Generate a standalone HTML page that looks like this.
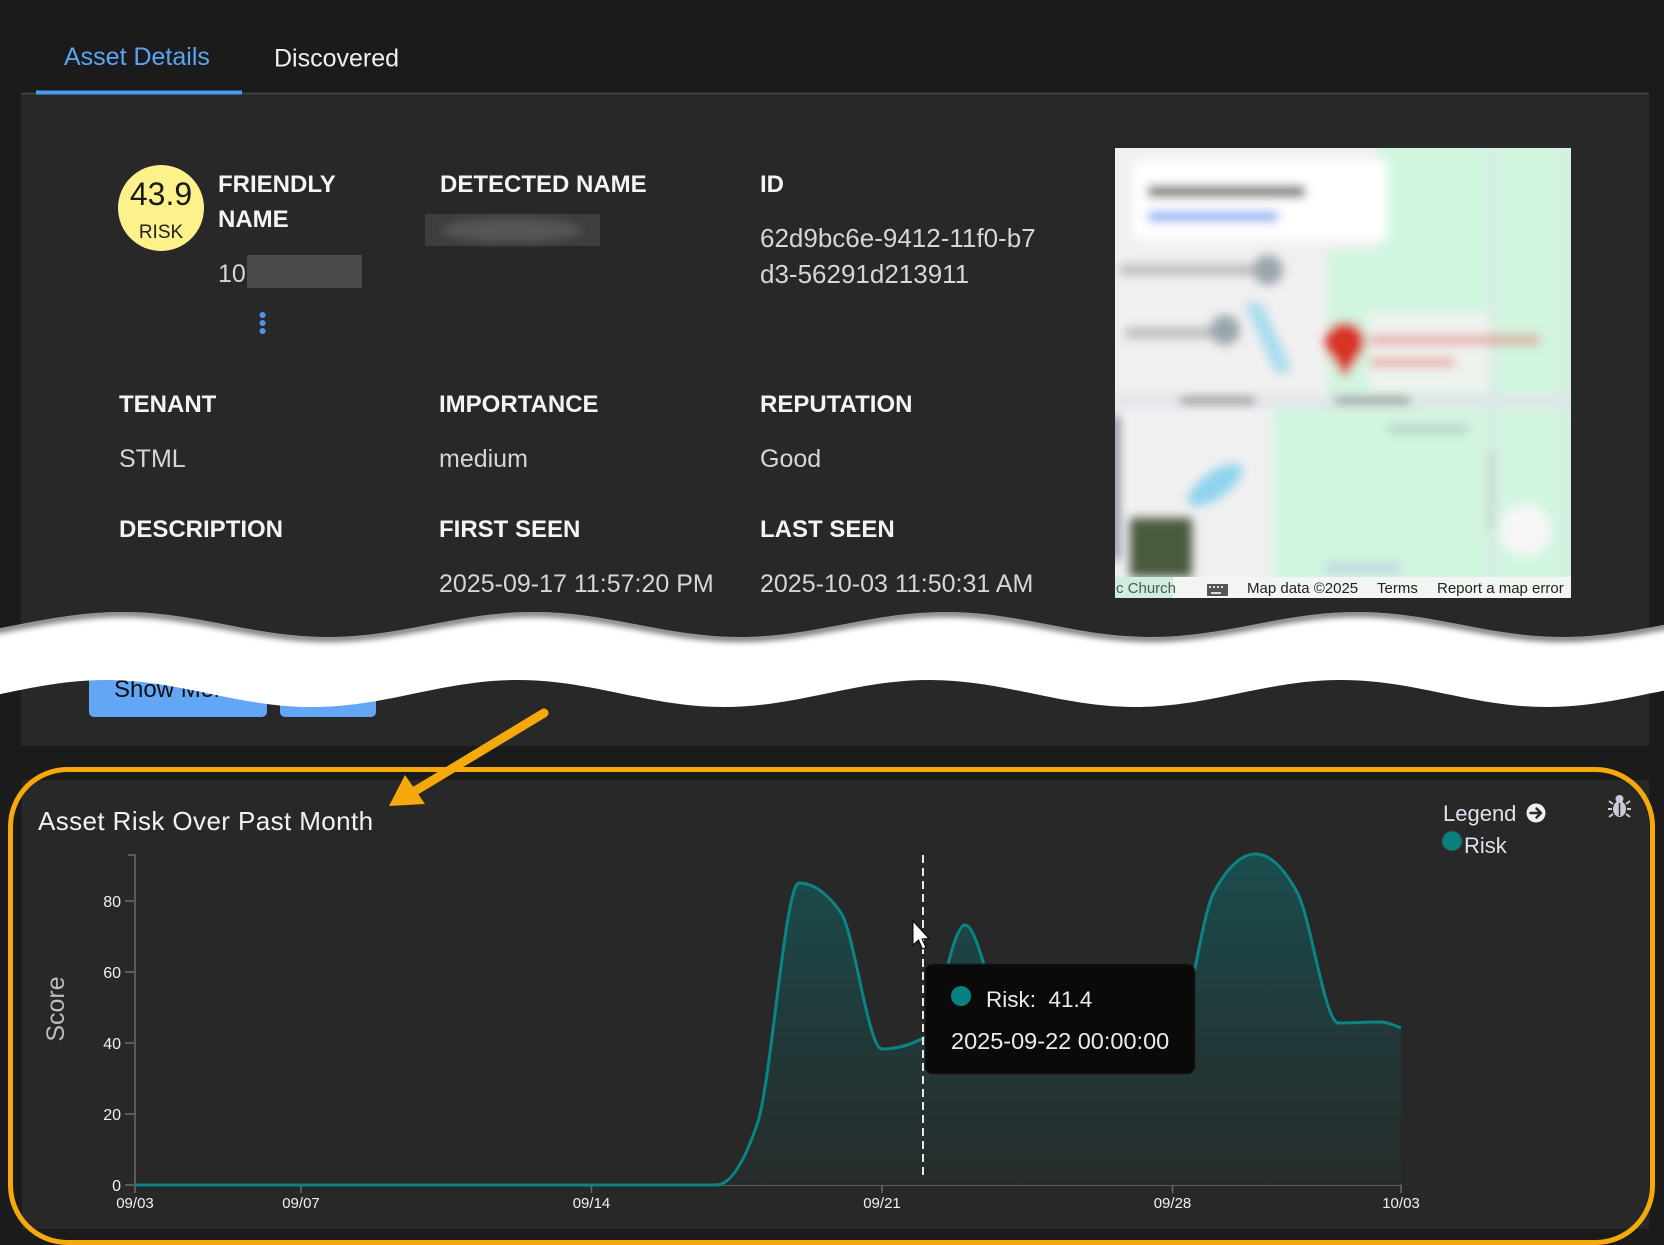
<!DOCTYPE html>
<html>
<head>
<meta charset="utf-8">
<style>
html,body{margin:0;padding:0;background:#1b1b1b;}
svg{display:block;}
text{font-family:"Liberation Sans",Arial,sans-serif;}
</style>
</head>
<body>
<svg width="1664" height="1245" viewBox="0 0 1664 1245" xmlns="http://www.w3.org/2000/svg">
<defs>
  <filter id="mblur" x="-10%" y="-10%" width="120%" height="120%"><feGaussianBlur stdDeviation="5"/></filter>
  <filter id="sblur" x="-10%" y="-50%" width="120%" height="200%"><feGaussianBlur stdDeviation="3"/></filter>
  <filter id="bblur" x="-20%" y="-50%" width="140%" height="200%"><feGaussianBlur stdDeviation="4"/></filter>
  <clipPath id="mapclip"><rect x="1115" y="148" width="456" height="450"/></clipPath>
  <clipPath id="bandclip">
    <path d="M-83.9,637 C-8.9,637 47,612 122,612 C197,612 252.9,637 327.9,637 C402.9,637 458.8,612 533.7,612 C608.7,612 664.6,637 739.6,637 C814.6,637 870.5,612 945.4,612 C1020.4,612 1076.3,637 1151.3,637 C1226.3,637 1282.2,612 1357.1,612 C1432.1,612 1488,637 1563,637 C1638,637 1693.9,612 1768.8,612 L1752.8,680 C1677.8,680 1621.9,707 1547,707 C1472,707 1416.1,680 1341.1,680 C1266.1,680 1210.2,707 1135.3,707 C1060.3,707 1004.4,680 929.4,680 C854.4,680 798.5,707 723.6,707 C648.6,707 592.7,680 517.7,680 C442.7,680 386.8,707 311.9,707 C236.9,707 181,680 106,680 C31,680 -24.9,707 -99.9,707 Z"/>
  </clipPath>
  <linearGradient id="areag" gradientUnits="userSpaceOnUse" x1="0" y1="854" x2="0" y2="1185">
    <stop offset="0" stop-color="#1b4d4d"/>
    <stop offset="0.5" stop-color="#213a3a"/>
    <stop offset="1" stop-color="#272b2b"/>
  </linearGradient>
</defs>

<rect x="0" y="0" width="1664" height="1245" fill="#1b1b1b"/>

<rect x="21" y="94" width="1628" height="652" fill="#282828"/>
<line x1="21" y1="93.5" x2="1649" y2="93.5" stroke="#4a4a4a" stroke-width="1.5"/>
<rect x="36" y="90.5" width="206" height="4" fill="#4d9af0"/>
<text x="64" y="65" font-size="25" fill="#5da3f2">Asset Details</text>
<text x="274" y="66.5" font-size="25" fill="#f0f0f0">Discovered</text>

<circle cx="161" cy="208" r="43" fill="#fdf18b"/>
<text x="161" y="205" font-size="32" fill="#1a1a1a" text-anchor="middle">43.9</text>
<text x="161" y="238" font-size="19" fill="#222" text-anchor="middle">RISK</text>

<g font-size="24" font-weight="bold" fill="#f4f4f4">
  <text x="218" y="192">FRIENDLY</text>
  <text x="218" y="227">NAME</text>
  <text x="440" y="192">DETECTED NAME</text>
  <text x="760" y="192">ID</text>
  <text x="119" y="412">TENANT</text>
  <text x="439" y="412">IMPORTANCE</text>
  <text x="760" y="412">REPUTATION</text>
  <text x="119" y="537">DESCRIPTION</text>
  <text x="439" y="537">FIRST SEEN</text>
  <text x="760" y="537">LAST SEEN</text>
</g>

<g font-size="25" fill="#d6d6d6">
  <text x="218" y="282">10.</text>
  <text x="760" y="247" font-size="26">62d9bc6e-9412-11f0-b7</text>
  <text x="760" y="283" font-size="26">d3-56291d213911</text>
  <text x="119" y="467">STML</text>
  <text x="439" y="467">medium</text>
  <text x="760" y="467">Good</text>
  <text x="439" y="592">2025-09-17 11:57:20 PM</text>
  <text x="760" y="592">2025-10-03 11:50:31 AM</text>
</g>
<rect x="247" y="255" width="115" height="33" fill="#4a4a4c"/>
<rect x="425" y="214" width="175" height="32" fill="#3e3e40"/>
<ellipse cx="512" cy="230" rx="70" ry="12" fill="#555557" filter="url(#bblur)"/>
<g fill="#4f95ea"><circle cx="262.6" cy="315" r="3"/><circle cx="262.6" cy="323" r="3"/><circle cx="262.6" cy="331" r="3"/></g>

<g clip-path="url(#mapclip)">
  <rect x="1115" y="148" width="456" height="450" fill="#f1f0f1"/>
  <g filter="url(#mblur)">
    <rect x="1377" y="140" width="200" height="470" fill="#d2f5e0"/>
    <rect x="1327" y="250" width="60" height="145" fill="#d2f5e0"/>
    <rect x="1273" y="407" width="110" height="175" fill="#d2f5e0"/>
    <rect x="1368" y="313" width="122" height="78" fill="#eef3ee"/>
    <rect x="1110" y="395" width="470" height="12" fill="#e3e5ea"/>
    <rect x="1180" y="397" width="75" height="7" fill="#5a5a5a" opacity="0.7"/>
    <rect x="1335" y="397" width="75" height="7" fill="#5a5a5a" opacity="0.7"/>
    <rect x="1491" y="148" width="3" height="450" fill="#dcdde6"/>
    <rect x="1565" y="148" width="3" height="450" fill="#dcdde6"/>
    <rect x="1133" y="160" width="254" height="80" fill="#ffffff"/>
    <rect x="1148" y="186" width="157" height="11" fill="#3a3a3a" opacity="0.8"/>
    <rect x="1148" y="212" width="130" height="9" fill="#6ea0f0"/>
    <rect x="1120" y="265" width="135" height="10" fill="#a0a0a0" opacity="0.7"/>
    <circle cx="1268" cy="270" r="15" fill="#9aa5ad"/>
    <rect x="1125" y="328" width="90" height="10" fill="#a0a0a0" opacity="0.7"/>
    <circle cx="1225" cy="330" r="15" fill="#9aa5ad"/>
    <polygon points="1244,303 1262,303 1292,370 1276,374" fill="#a8dcec"/>
    <ellipse cx="1215" cy="485" rx="32" ry="13" fill="#8fd3ec" transform="rotate(-35 1215 485)"/>
    <circle cx="1345" cy="342" r="20" fill="#d93025"/>
    <polygon points="1327,350 1363,350 1345,378" fill="#d93025"/>
    <rect x="1370" y="335" width="170" height="10" fill="#e07070" opacity="0.55"/>
    <rect x="1370" y="358" width="85" height="9" fill="#e07070" opacity="0.55"/>
    <rect x="1113" y="415" width="5" height="145" fill="#3a4a6a"/>
    <rect x="1388" y="425" width="80" height="8" fill="#9aa0a8" opacity="0.5"/>
    <rect x="1488" y="450" width="6" height="80" fill="#b0b4ba" opacity="0.5"/>
    <rect x="1130" y="518" width="62" height="59" fill="#4a5a3c"/>
    <circle cx="1525" cy="530" r="26" fill="#f6f6f6"/>
    <rect x="1325" y="562" width="75" height="12" fill="#b8c8e0" opacity="0.6"/>
  </g>
  <rect x="1173" y="577" width="398" height="21" fill="#f3f5f3"/>
  <rect x="1115" y="577" width="58" height="21" fill="#cfeedd"/>
  <text x="1116" y="593" font-size="15" fill="#555">c Church</text>
  <rect x="1207" y="584" width="21" height="12" rx="1" fill="#555"/>
  <g fill="#ddd"><rect x="1209" y="586" width="2" height="2"/><rect x="1213" y="586" width="2" height="2"/><rect x="1217" y="586" width="2" height="2"/><rect x="1221" y="586" width="2" height="2"/><rect x="1211" y="592" width="10" height="2"/></g>
  <g font-size="15" fill="#222">
    <text x="1247" y="593">Map data ©2025</text>
    <text x="1377" y="593">Terms</text>
    <text x="1437" y="593">Report a map error</text>
  </g>
</g>

<rect x="89" y="660" width="178" height="57" rx="5" fill="#64a6f6"/>
<rect x="280" y="660" width="96" height="57" rx="5" fill="#64a6f6"/>
<text x="114" y="697" font-size="24" fill="#101010">Show More</text>

<path d="M-83.9,637 C-8.9,637 47,612 122,612 C197,612 252.9,637 327.9,637 C402.9,637 458.8,612 533.7,612 C608.7,612 664.6,637 739.6,637 C814.6,637 870.5,612 945.4,612 C1020.4,612 1076.3,637 1151.3,637 C1226.3,637 1282.2,612 1357.1,612 C1432.1,612 1488,637 1563,637 C1638,637 1693.9,612 1768.8,612 L1752.8,680 C1677.8,680 1621.9,707 1547,707 C1472,707 1416.1,680 1341.1,680 C1266.1,680 1210.2,707 1135.3,707 C1060.3,707 1004.4,680 929.4,680 C854.4,680 798.5,707 723.6,707 C648.6,707 592.7,680 517.7,680 C442.7,680 386.8,707 311.9,707 C236.9,707 181,680 106,680 C31,680 -24.9,707 -99.9,707 Z" fill="#ffffff"/>
<g clip-path="url(#bandclip)">
  <path transform="translate(0,1)" d="M-83.9,637 C-8.9,637 47,612 122,612 C197,612 252.9,637 327.9,637 C402.9,637 458.8,612 533.7,612 C608.7,612 664.6,637 739.6,637 C814.6,637 870.5,612 945.4,612 C1020.4,612 1076.3,637 1151.3,637 C1226.3,637 1282.2,612 1357.1,612 C1432.1,612 1488,637 1563,637 C1638,637 1693.9,612 1768.8,612" fill="none" stroke="#000" stroke-opacity="0.5" stroke-width="8" filter="url(#sblur)"/>
</g>

<rect x="22" y="780" width="1627" height="449" fill="#282828"/>
<rect x="10.5" y="769.5" width="1642" height="473" rx="57" ry="57" fill="none" stroke="#f6a90b" stroke-width="5"/>

<line x1="544" y1="713" x2="410" y2="794" stroke="#f6a90b" stroke-width="9" stroke-linecap="round"/>
<polygon points="389,806 405,775 425,804" fill="#f6a90b"/>

<text x="38" y="830" font-size="26" letter-spacing="0.4" fill="#f2f2f2">Asset Risk Over Past Month</text>

<text x="1443" y="821" font-size="22" fill="#dfe1ec">Legend</text>
<circle cx="1536" cy="813" r="9.5" fill="#f0f0f0"/>
<path d="M1530.5,813 H1540.5 M1536.5,808.5 L1541,813 L1536.5,817.5" fill="none" stroke="#282828" stroke-width="2.4" stroke-linecap="round" stroke-linejoin="round"/>
<circle cx="1452" cy="841" r="10" fill="#088080" stroke="#3a3a3a" stroke-width="1"/>
<text x="1464" y="853" font-size="22" fill="#dfe1ec">Risk</text>
<g fill="#c9cbd6" stroke="#c9cbd6">
  <circle cx="1619.5" cy="799" r="4" stroke="none"/>
  <ellipse cx="1619.5" cy="809" rx="6.5" ry="8" stroke="none"/>
  <g stroke-width="2" fill="none">
    <line x1="1613" y1="804" x2="1609" y2="801"/>
    <line x1="1626" y1="804" x2="1630" y2="801"/>
    <line x1="1612" y1="809" x2="1608" y2="809"/>
    <line x1="1627" y1="809" x2="1631" y2="809"/>
    <line x1="1613" y1="814" x2="1609" y2="817"/>
    <line x1="1626" y1="814" x2="1630" y2="817"/>
  </g>
  <line x1="1619.5" y1="803" x2="1619.5" y2="816" stroke="#282828" stroke-width="1.5"/>
</g>

<g stroke="#6a6a6a" stroke-width="1.5" fill="none">
  <path d="M128,855 H135 V1185 H1401 V1193"/>
  <line x1="135" y1="1185" x2="135" y2="1193"/>
  <line x1="125" y1="901" x2="135" y2="901"/>
  <line x1="125" y1="972" x2="135" y2="972"/>
  <line x1="125" y1="1043" x2="135" y2="1043"/>
  <line x1="125" y1="1114" x2="135" y2="1114"/>
  <line x1="125" y1="1185" x2="135" y2="1185"/>
  <line x1="301" y1="1185" x2="301" y2="1193"/>
  <line x1="591.5" y1="1185" x2="591.5" y2="1193"/>
  <line x1="882" y1="1185" x2="882" y2="1193"/>
  <line x1="1172.5" y1="1185" x2="1172.5" y2="1193"/>
</g>
<g font-size="16" fill="#f0f0f0" text-anchor="end">
  <text x="121" y="907">80</text>
  <text x="121" y="978">60</text>
  <text x="121" y="1049">40</text>
  <text x="121" y="1120">20</text>
  <text x="121" y="1191">0</text>
</g>
<g font-size="15" fill="#f0f0f0" text-anchor="middle">
  <text x="135" y="1208">09/03</text>
  <text x="301" y="1208">09/07</text>
  <text x="591.5" y="1208">09/14</text>
  <text x="882" y="1208">09/21</text>
  <text x="1172.5" y="1208">09/28</text>
  <text x="1401" y="1208">10/03</text>
</g>
<text transform="translate(64,1009) rotate(-90)" font-size="25" fill="#bdbdbd" text-anchor="middle">Score</text>

<path d="M135,1185 L716,1185 C729.83,1185 743.67,1164.3 757.5,1123 C771.33,1081.7 785.17,883 799,883 C812.83,883 826.67,892.66 840.5,912 C854.33,931.34 868.17,1049 882,1049 C895.83,1049 909.67,1045.33 923.5,1038 C937.33,1030.67 951.17,925 965,925 C978.83,925 992.67,1012.99 1006.5,1025 C1020.33,1037.01 1034.17,1043 1048,1043 L1172.5,1043 C1186.33,1043 1200.17,917.34 1214,892 C1227.83,866.66 1241.67,854 1255.5,854 C1269.33,854 1283.17,866.66 1297,892 C1310.83,917.34 1324.67,1023 1338.5,1023 C1352.33,1023 1366.17,1022 1380,1022 C1387,1022 1394,1025 1401,1028 L1401,1185 Z" fill="url(#areag)"/>
<path d="M135,1185 L716,1185 C729.83,1185 743.67,1164.3 757.5,1123 C771.33,1081.7 785.17,883 799,883 C812.83,883 826.67,892.66 840.5,912 C854.33,931.34 868.17,1049 882,1049 C895.83,1049 909.67,1045.33 923.5,1038 C937.33,1030.67 951.17,925 965,925 C978.83,925 992.67,1012.99 1006.5,1025 C1020.33,1037.01 1034.17,1043 1048,1043 L1172.5,1043 C1186.33,1043 1200.17,917.34 1214,892 C1227.83,866.66 1241.67,854 1255.5,854 C1269.33,854 1283.17,866.66 1297,892 C1310.83,917.34 1324.67,1023 1338.5,1023 C1352.33,1023 1366.17,1022 1380,1022 C1387,1022 1394,1025 1401,1028" fill="none" stroke="#0a8585" stroke-width="3" stroke-linejoin="round"/>

<line x1="923" y1="855" x2="923" y2="1177" stroke="#e8e8e8" stroke-width="2" stroke-dasharray="8,5"/>

<rect x="925" y="964" width="270" height="110" rx="8" fill="#0a0a0a" stroke="#1e1e1e" stroke-width="1"/>
<circle cx="961" cy="996" r="10" fill="#078282"/>
<text x="986" y="1007" font-size="22.5" fill="#ececec" xml:space="preserve">Risk:  41.4</text>
<text x="951" y="1049" font-size="23.5" fill="#ececec">2025-09-22 00:00:00</text>

<polygon points="913,921 913,945 918.5,940 922.5,949 926,947.5 922,939 929,938.5" fill="#ffffff" stroke="#000" stroke-width="1"/>
</svg>
</body>
</html>
